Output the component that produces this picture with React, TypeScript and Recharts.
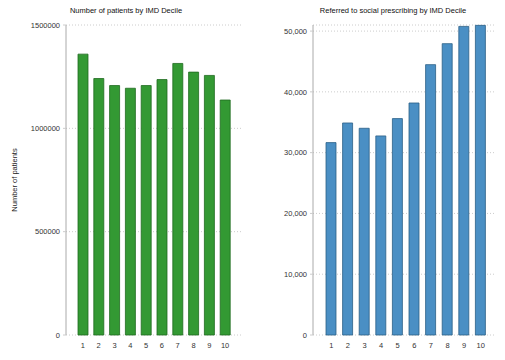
import { BarChart, Bar, XAxis, YAxis, CartesianGrid } from 'recharts'

const DECILES = ['1', '2', '3', '4', '5', '6', '7', '8', '9', '10']
const PATIENTS = [1359000, 1241000, 1207000, 1194000, 1207000, 1236000, 1314000, 1272000, 1256000, 1137000]
const REFERRED = [31650, 34880, 34010, 32750, 35600, 38170, 44480, 47930, 50770, 50940]
const PATIENT_TICKS = [0, 500000, 1000000, 1500000]
const REFERRED_TICKS = [0, 10000, 20000, 30000, 40000, 50000]

const patientRows = DECILES.map((d, i) => ({ decile: d, value: PATIENTS[i] }))
const referredRows = DECILES.map((d, i) => ({ decile: d, value: REFERRED[i] }))

const font = 'Liberation Sans, Arial, sans-serif'
const tick = { fontSize: 7.5, fill: '#333', fontFamily: font }

function Title({ x, text }: { x: number; text: string }) {
  return (
    <div style={{ position: 'absolute', left: x - 100, top: 6, width: 200, textAlign: 'center', fontSize: 7.5, fontFamily: font, color: '#111' }}>
      {text}
    </div>
  )
}

export default function App() {
  return (
    <div style={{ position: 'fixed', left: 0, top: 0, width: 505, height: 360, background: '#fff', overflow: 'hidden' }}>
      <Title x={126} text="Number of patients by IMD Decile" />
      <Title x={393} text="Referred to social prescribing by IMD Decile" />
      <div style={{ position: 'absolute', left: 0, top: 0 }}>
        <BarChart width={250} height={360} data={patientRows} margin={{ top: 25, right: 7, left: 0, bottom: 5 }}>
          <CartesianGrid vertical={false} stroke="#ccc" strokeDasharray="1 2" />
          <XAxis dataKey="decile" axisLine={false} tickLine={false} tick={tick} height={20} padding={{ left: 9, right: 10 }} />
          <YAxis
            width={66}
            domain={[0, 1500000]}
            ticks={PATIENT_TICKS}
            interval={0}
            tick={tick}
            tickSize={3}
            tickMargin={3}
            axisLine={{ stroke: '#aaa' }}
            tickLine={{ stroke: '#ccc' }}
            label={{ value: 'Number of patients', angle: -90, position: 'insideLeft', offset: 14, style: { fontSize: 7.5, fill: '#222', fontFamily: font, textAnchor: 'middle' } }}
          />
          <Bar dataKey="value" fill="#339933" stroke="#1f6a1f" strokeWidth={0.8} barSize={10} isAnimationActive={false} />
        </BarChart>
      </div>
      <div style={{ position: 'absolute', left: 250, top: 0 }}>
        <BarChart width={255} height={360} data={referredRows} margin={{ top: 25, right: 9, left: 0, bottom: 5 }}>
          <CartesianGrid vertical={false} stroke="#ccc" strokeDasharray="1 2" />
          <XAxis dataKey="decile" axisLine={false} tickLine={false} tick={tick} height={20} padding={{ left: 10, right: 7 }} />
          <YAxis
            width={63}
            domain={[0, 51000]}
            ticks={REFERRED_TICKS}
            interval={0}
            tick={tick}
            tickSize={3}
            tickMargin={3}
            axisLine={{ stroke: '#aaa' }}
            tickLine={{ stroke: '#ccc' }}
            tickFormatter={(v: number) => v.toLocaleString('en-US')}
          />
          <Bar dataKey="value" fill="#4a8fc4" stroke="#2b5f86" strokeWidth={0.8} barSize={10} isAnimationActive={false} />
        </BarChart>
      </div>
    </div>
  )
}
